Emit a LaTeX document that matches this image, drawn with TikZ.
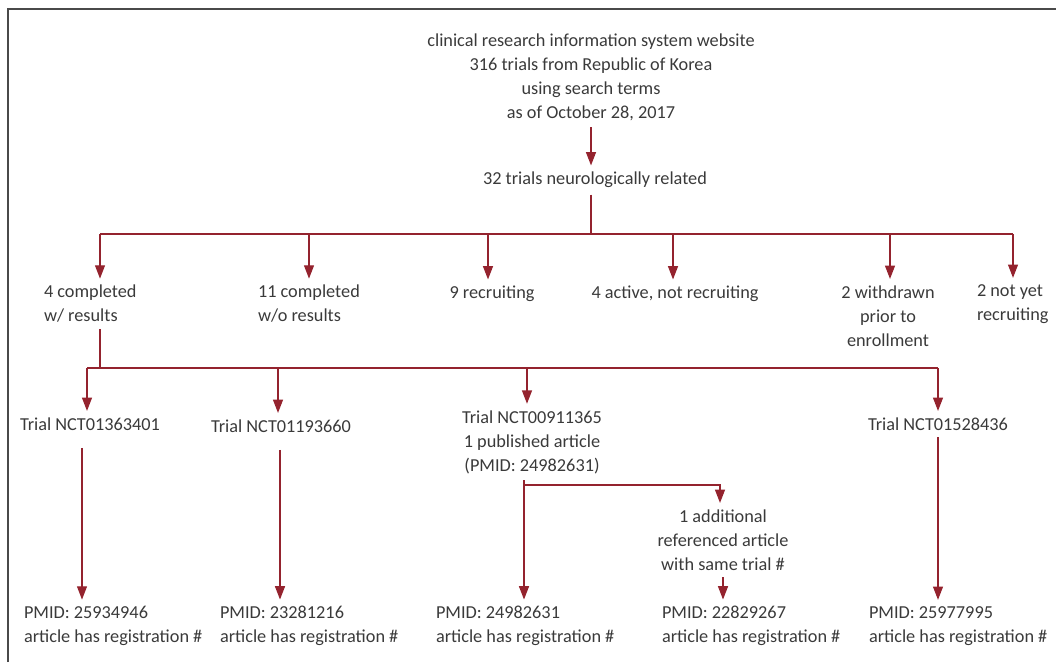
\documentclass[tikz,border=0pt]{standalone}
\usepackage{fontspec}
\setmainfont{Carlito}
\usetikzlibrary{arrows.meta,positioning,calc}
\definecolor{FlowRed}  {HTML}{94232E}
\definecolor{TextGray} {HTML}{3A3A3A}
\definecolor{FrameGray}{HTML}{4A4A4A}
\tikzset{
  lbl/.style={font=\fontsize{13.7}{18}\selectfont,text=TextGray,
              inner sep=0pt,outer xsep=0pt,outer ysep=5pt,align=center},
  lblL/.style={lbl,align=left,anchor=west},
  ln/.style={FlowRed,line width=0.9pt},
  arr/.style={ln,-{Triangle[length=10pt,width=7.5pt]}},
}

\begin{document}
\begin{tikzpicture}[x=0.75pt,y=-0.75pt]
  \useasboundingbox (0,0) rectangle (1056,662);
  \draw[FrameGray,line width=1.4pt] (8,662) -- (8,9) -- (1056,9);

  % source and first selection
  \node[lbl] (src) at (591,77) {clinical research information system website\\
    316 trials from Republic of Korea\\using search terms\\as of October 28, 2017};
  \node[lbl] (neuro) at (595,180) {32 trials neurologically related};

  % status groups
  \node[lblL] (cmpW)  at (44,304)  {4 completed\\w/ results};
  \node[lblL] (cmpWo) at (258,304) {11 completed\\w/o results};
  \node[lbl]  (recr)  at (492,294) {9 recruiting};
  \node[lbl]  (actv)  at (675,294) {4 active, not recruiting};
  \node[lbl]  (wdrn)  at (888,316) {2 withdrawn\\prior to\\enrollment};
  \node[lblL] (nyet)  at (977,304) {2 not yet\\recruiting};

  % trials with results
  \node[lbl] (trA) at (90,424)  {Trial NCT01363401};
  \node[lbl] (trB) at (281,426) {Trial NCT01193660};
  \node[lbl] (trC) at (532,442) {Trial NCT00911365\\1 published article\\(PMID: 24982631)};
  \node[lbl] (trD) at (938,424) {Trial NCT01528436};
  \node[lbl] (addl) at (723,540) {1 additional\\referenced article\\with same trial \#};

  % articles
  \node[lblL] (pmA) at (24,626)  {PMID: 25934946\\article has registration \#};
  \node[lblL] (pmB) at (220,626) {PMID: 23281216\\article has registration \#};
  \node[lblL] (pmC) at (436,626) {PMID: 24982631\\article has registration \#};
  \node[lblL] (pmD) at (662,626) {PMID: 22829267\\article has registration \#};
  \node[lblL] (pmE) at (869,626) {PMID: 25977995\\article has registration \#};

  % first bus
  \coordinate (busT) at (591,234);
  \foreach \n/\x in {1/100,2/309,3/488,4/673,5/890,6/1013}
    \coordinate (b\n) at (\x,234);
  \draw[arr] (src.south -| busT) -- (neuro.north -| busT);
  \draw[ln] (neuro.south -| busT) -- (busT);
  \draw[ln] (b1) -- (b6);
  \foreach \n/\t in {1/cmpW,2/cmpWo,3/recr,4/actv,5/wdrn,6/nyet}
    \draw[arr] (b\n) -- (b\n |- \t.north);

  % second bus
  \coordinate (tr0) at (100,368);
  \foreach \n/\x in {1/87,2/278,3/527,4/938}
    \coordinate (tr\n) at (\x,368);
  \draw[ln] (b1 |- cmpW.south) -- (tr0);
  \draw[ln] (tr1) -- (tr4);
  \foreach \n/\t in {1/trA,2/trB,3/trC,4/trD}
    \draw[arr] (tr\n) -- (tr\n |- \t.north);

  % trial to article
  \foreach \n/\x in {1/82,2/280,3/524,4/938}
    \coordinate (v\n) at (\x,0);
  \draw[arr,shorten <=8pt] (v1 |- trA.south) -- (v1 |- pmA.north);
  \draw[arr,shorten <=8pt] (v2 |- trB.south) -- (v2 |- pmB.north);
  \draw[arr] (v3 |- trC.south) -- (v3 |- pmC.north);
  \draw[arr] (v4 |- trD.south) -- (v4 |- pmE.north);
  \coordinate (jn) at (524,485);
  \coordinate (jr) at (720,485);
  \draw[arr] (jn) -- (jr) -- (jr |- addl.north);
  \draw[arr] (addl.south) -- (addl.south |- pmD.north);
\end{tikzpicture}
\end{document}
